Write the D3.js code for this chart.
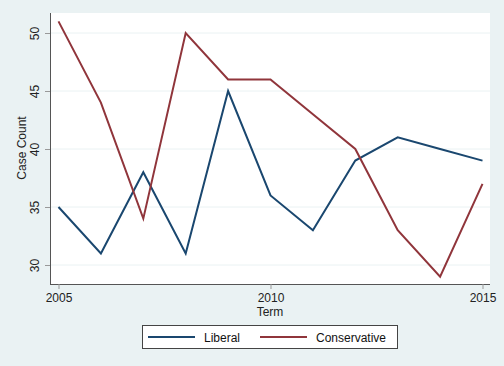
<!DOCTYPE html>
<html lang="en">
<head>
<meta charset="UTF-8">
<title>Case Count by Term</title>
<script src="https://cdn.jsdelivr.net/npm/d3@7"></script>
<style>
    body { margin: 0; background: #eaf2f3; }
    svg { display: block; font-family: "Liberation Sans", Arial, sans-serif; }
</style>
</head>
<body>
<svg width="504" height="366"></svg>
<script>
    // data
    const terms = [2005, 2006, 2007, 2008, 2009, 2010, 2011, 2012, 2013, 2014, 2015];
    const liberal = [35, 31, 38, 31, 45, 36, 33, 39, 41, 40, 39];
    const conservative = [51, 44, 34, 50, 46, 46, 43, 40, 33, 29, 37];
    const xTicks = [2005, 2010, 2015];
    const yTicks = [30, 35, 40, 45, 50];
    const seriesNames = ["Liberal", "Conservative"];
    const colors = ["#1a476f", "#90353b"];

    const svg = d3.select("svg");
    svg.append("rect").attr("width", 504).attr("height", 366).attr("fill", "#eaf2f3");

    const plot = {left: 50, right: 490, top: 13, bottom: 284};

    svg.append("rect")
        .attr("x", plot.left).attr("y", plot.top)
        .attr("width", plot.right - plot.left).attr("height", plot.bottom - plot.top)
        .attr("fill", "#ffffff");

    const x = d3.scaleLinear().domain([2005, 2015]).range([58.5, 482.5]);
    const y = d3.scaleLinear().domain([30, 50]).range([265, 33]);

    // grid lines
    svg.append("g").selectAll("line")
        .data(yTicks)
        .enter().append("line")
        .attr("x1", plot.left).attr("x2", plot.right)
        .attr("y1", d => y(d)).attr("y2", d => y(d))
        .attr("stroke", "#eaf2f3").attr("stroke-width", 1);

    // y axis
    const yAxis = svg.append("g")
        .attr("transform", "translate(" + plot.left + ",0)")
        .call(d3.axisLeft(y).tickValues(yTicks).tickSize(5).tickPadding(4));
    yAxis.select(".domain").attr("d", "M0.5," + plot.top + "V" + plot.bottom).attr("stroke", "#555");
    yAxis.selectAll(".tick line").attr("stroke", "#999");
    yAxis.selectAll(".tick text")
        .attr("font-size", 12).attr("fill", "#222")
        .attr("transform", "rotate(-90)")
        .attr("x", 0).attr("y", -11)
        .attr("dy", 0)
        .attr("text-anchor", "middle");

    // x axis
    const xAxis = svg.append("g")
        .attr("transform", "translate(0," + plot.bottom + ")")
        .call(d3.axisBottom(x).tickValues(xTicks).tickFormat(d3.format("d")).tickSize(5).tickPadding(4));
    xAxis.select(".domain").attr("d", "M" + plot.left + ",0.5H" + plot.right).attr("stroke", "#555");
    xAxis.selectAll(".tick line").attr("stroke", "#999");
    xAxis.selectAll(".tick text").attr("font-size", 12).attr("fill", "#222");

    // axis titles
    svg.append("text")
        .attr("x", 270).attr("y", 316)
        .attr("text-anchor", "middle").attr("font-size", 12).attr("fill", "#222")
        .text("Term");
    svg.append("text")
        .attr("transform", "translate(26,148) rotate(-90)")
        .attr("text-anchor", "middle").attr("font-size", 12).attr("fill", "#222")
        .text("Case Count");

    // lines
    const line = d3.line()
        .x((d, i) => x(terms[i]))
        .y(d => y(d));

    [liberal, conservative].forEach(function (vals, k) {
        svg.append("path")
            .datum(vals)
            .attr("d", line)
            .attr("fill", "none")
            .attr("stroke", colors[k])
            .attr("stroke-width", 2)
            .attr("stroke-linejoin", "miter");
    });

    // legend
    const legend = svg.append("g");
    legend.append("rect")
        .attr("x", 142.5).attr("y", 325.5)
        .attr("width", 255).attr("height", 23)
        .attr("fill", "#ffffff").attr("stroke", "#444");
    const legendX = [148, 260];
    seriesNames.forEach(function (name, k) {
        legend.append("line")
            .attr("x1", legendX[k]).attr("x2", legendX[k] + 47)
            .attr("y1", 337).attr("y2", 337)
            .attr("stroke", colors[k]).attr("stroke-width", 2);
        legend.append("text")
            .attr("x", legendX[k] + 56).attr("y", 341.5)
            .attr("font-size", 12).attr("fill", "#111")
            .text(name);
    });
</script>
</body>
</html>
